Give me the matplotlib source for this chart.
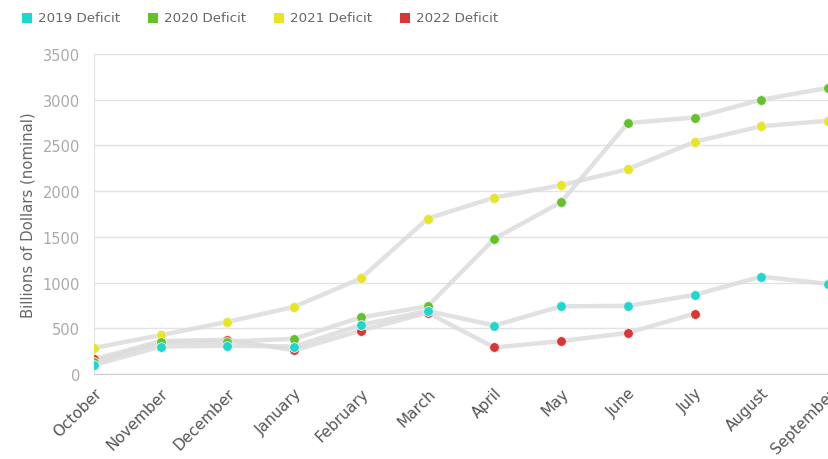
import matplotlib
matplotlib.use("Agg")
import matplotlib.pyplot as plt
from matplotlib.patches import Rectangle

months = ["October", "November", "December", "January", "February", "March",
          "April", "May", "June", "July", "August", "September"]
deficit_2019 = [100, 300, 310, 300, 535, 690, 530, 740, 745, 865, 1065, 985]
deficit_2020 = [130, 345, 355, 385, 620, 740, 1480, 1880, 2745, 2805, 3000, 3130]
deficit_2021 = [285, 425, 570, 735, 1045, 1700, 1930, 2065, 2240, 2540, 2710, 2770]
deficit_2022 = [160, 360, 375, 260, 475, 670, 290, 360, 450, 660]

series = [("2019 Deficit", deficit_2019, "#1ed8cf"),
          ("2020 Deficit", deficit_2020, "#62c22a"),
          ("2021 Deficit", deficit_2021, "#e8e621"),
          ("2022 Deficit", deficit_2022, "#dc3535")]

plt.rcParams['font.family'] = ['DejaVu Sans']

W, H = 829, 460
fig = plt.figure(figsize=(W/100, H/100), dpi=100)
ax = fig.add_axes([94/W, (H-375)/H, 734/W, 320/H])

for name, vals, col in series[::-1]:
    x = list(range(len(vals)))
    ax.plot(x, vals, color="#dcdcdc", lw=3.2, alpha=0.85,
            solid_capstyle="round", zorder=2)
for name, vals, col in series[::-1]:
    x = list(range(len(vals)))
    ax.plot(x, vals, ls="none", marker="o", ms=7, mfc=col, mec="#f0f0f0",
            mew=0.6, zorder=3)

ax.set_xlim(0, 11)
ax.set_ylim(0, 3500)
ax.set_yticks(range(0, 3501, 500))
ax.set_xticks(range(12))
ax.set_xticklabels(months, rotation=45, ha="right", rotation_mode="anchor",
                   fontsize=11, color="#555555")
ax.tick_params(axis="x", length=0, pad=8)
ax.tick_params(axis="y", length=0, pad=10, labelsize=10.5, labelcolor="#aaaaaa")
ax.grid(axis="y", color="#e3e3e3", lw=1)
ax.set_axisbelow(True)
for s in ["top", "right"]:
    ax.spines[s].set_visible(False)
ax.spines["left"].set_color("#e3e3e3")
ax.spines["bottom"].set_color("#cccccc")
ax.set_ylabel("Billions of Dollars (nominal)", fontsize=10.7, color="#666666",
              labelpad=5)

# legend drawn at top
for i, (name, _, col) in enumerate(series):
    x0 = 22 + 126 * i
    fig.add_artist(Rectangle((x0 / W, (H - 24) / H), 10 / W, 10 / H,
                             transform=fig.transFigure, color=col, lw=0))
    fig.text((x0 + 16) / W, (H - 19) / H, name, fontsize=9.6,
             color="#666666", va="center", ha="left")

fig.savefig("out.png", dpi=100)
